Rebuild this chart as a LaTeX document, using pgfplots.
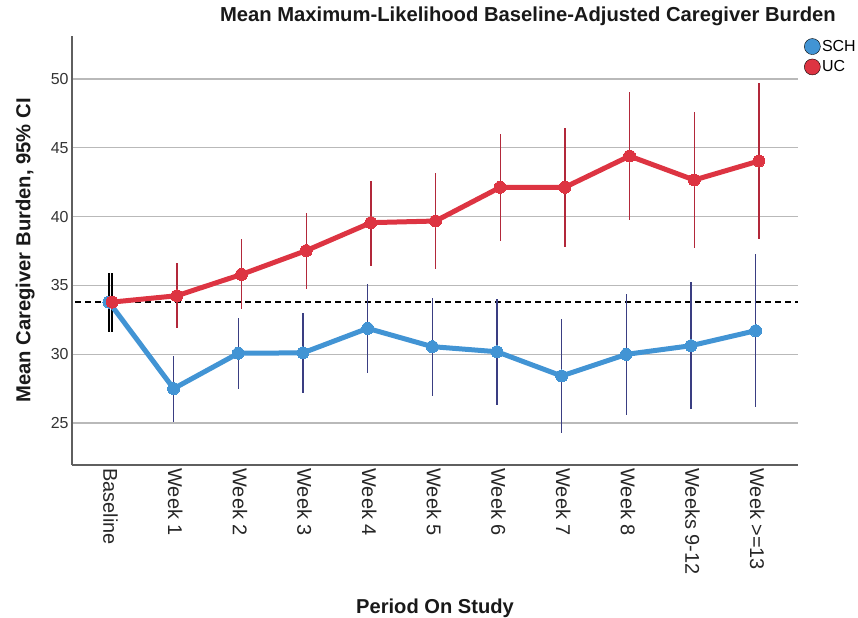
\documentclass[border=0pt]{standalone}
\usepackage{pgfplots}
\usepackage{pgfplotstable}
\pgfplotsset{compat=1.18}
\usepackage{fontspec}
\setmainfont{Liberation Sans}

\definecolor{schblue}{RGB}{66,148,212}
\definecolor{ucred}{RGB}{221,52,66}
\definecolor{schbar}{RGB}{58,62,130}
\definecolor{ucbar}{RGB}{178,40,58}
\definecolor{gridc}{RGB}{185,185,185}
\definecolor{axc}{RGB}{95,95,95}

\pgfplotstableread{
x y lo hi
0 33.79 31.64 35.88
1 27.50 25.10 29.87
2 30.07 27.45 32.63
3 30.10 27.20 32.97
4 31.88 28.66 35.10
5 30.55 27.00 34.06
6 30.18 26.30 34.00
7 28.42 24.27 32.56
8 29.99 25.58 34.37
9 30.62 26.00 35.25
10 31.71 26.16 37.28
}\sch

\pgfplotstableread{
x y lo hi
0 33.79 31.64 35.88
1 34.25 31.93 36.60
2 35.80 33.26 38.35
3 37.53 34.74 40.28
4 39.56 36.40 42.60
5 39.68 36.20 43.14
6 42.13 38.25 46.00
7 42.13 37.81 46.44
8 44.40 39.75 49.03
9 42.66 37.70 47.60
10 44.04 38.37 49.70
}\uc

\begin{document}
\begin{tikzpicture}
\path[use as bounding box] (-72bp,-153bp) rectangle (786bp,465bp);
\begin{axis}[
  scale only axis,
  width=726bp, height=429bp,
  xmin=-0.597, xmax=10.63,
  ymin=21.95, ymax=53.125,
  axis x line*=bottom, axis y line*=left,
  axis line style={-, draw=axc, line width=1.2bp},
  xtick={0,...,10},
  xticklabels={Baseline,Week 1,Week 2,Week 3,Week 4,Week 5,Week 6,Week 7,Week 8,Weeks 9-12,Week >=13},
  xticklabel style={rotate=-90, anchor=west, font=\fontsize{20}{20}\selectfont, text=black!85, xshift=0bp},
  ytick={25,30,35,40,45,50},
  yticklabel style={font=\fontsize{16}{16}\selectfont, text=black!80},
  /pgf/number format/assume math mode=true,
  major tick length=0pt,
  ymajorgrids,
  grid style={draw=gridc, line width=1.2bp},
  ylabel={Mean Caregiver Burden, 95\% CI},
  ylabel style={at={(axis description cs:-0.0646,0.5)}, anchor=center, font=\bfseries\fontsize{20.3}{20}\selectfont, text=black!90},
  xlabel={Period On Study},
  xlabel style={at={(axis description cs:0.5,-0.333)}, anchor=center, font=\bfseries\fontsize{20.2}{20}\selectfont, text=black!90},
  title={Mean Maximum-Likelihood Baseline-Adjusted Caregiver Burden},
  title style={at={(axis description cs:0.628,1.0326)}, anchor=center, font=\bfseries\fontsize{20.3}{20}\selectfont, text=black!90},
  legend style={at={(axis description cs:1.0082,0.995)}, anchor=north west, draw=none, fill=none,
    font=\fontsize{16}{16}\selectfont, inner sep=0pt, row sep=4bp,
    nodes={inner xsep=1.5bp, inner ysep=0pt}},
  legend cell align=left,
  legend image code/.code={\fill (8bp,0bp) circle (8bp);},
]
% legend
\addlegendimage{fill=schblue}
\addlegendentry{SCH}
\addlegendimage{fill=ucred}
\addlegendentry{UC}

% dashed baseline reference
\addplot[black, line width=1.4bp, dash pattern=on 6bp off 4bp, forget plot] coordinates {(-0.55,33.79) (10.63,33.79)};

% error bars SCH (weeks)
\addplot[only marks, mark=none, forget plot,
  error bars/.cd, y dir=both, y explicit, error mark=none,
  error bar style={draw=schbar, line width=1.4bp}]
  table[x expr=\thisrow{x}-0.025, y=y, y error plus expr=\thisrow{hi}-\thisrow{y}, y error minus expr=\thisrow{y}-\thisrow{lo}, skip coords between index={0}{1}] {\sch};
% error bars UC (weeks)
\addplot[only marks, mark=none, forget plot,
  error bars/.cd, y dir=both, y explicit, error mark=none,
  error bar style={draw=ucbar, line width=1.4bp}]
  table[x expr=\thisrow{x}+0.025, y=y, y error plus expr=\thisrow{hi}-\thisrow{y}, y error minus expr=\thisrow{y}-\thisrow{lo}, skip coords between index={0}{1}] {\uc};
% baseline black bars
\addplot[only marks, mark=none, forget plot,
  error bars/.cd, y dir=both, y explicit, error mark=none,
  error bar style={draw=black, line width=1.8bp}]
  table[x expr=\thisrow{x}-0.025, y=y, y error plus expr=\thisrow{hi}-\thisrow{y}, y error minus expr=\thisrow{y}-\thisrow{lo}, skip coords between index={1}{11}] {\sch};
\addplot[only marks, mark=none, forget plot,
  error bars/.cd, y dir=both, y explicit, error mark=none,
  error bar style={draw=black, line width=1.8bp}]
  table[x expr=\thisrow{x}+0.025, y=y, y error plus expr=\thisrow{hi}-\thisrow{y}, y error minus expr=\thisrow{y}-\thisrow{lo}, skip coords between index={1}{11}] {\uc};

% lines
\addplot[schblue, line width=5bp, mark=*, mark size=6bp, mark options={fill=schblue, draw=schblue, line width=0pt}, forget plot]
  table[x expr=\thisrow{x}-0.025, y=y] {\sch};
\addplot[ucred, line width=5bp, mark=*, mark size=6bp, mark options={fill=ucred, draw=ucred, line width=0pt}, forget plot]
  table[x expr=\thisrow{x}+0.025, y=y] {\uc};
\end{axis}
\end{tikzpicture}
\end{document}
